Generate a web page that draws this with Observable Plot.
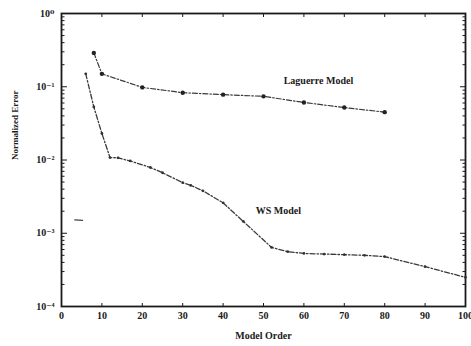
<!DOCTYPE html>
<html>
<head>
<meta charset="utf-8">
<script src="https://cdn.jsdelivr.net/npm/d3@7"></script>
<script src="https://cdn.jsdelivr.net/npm/@observablehq/plot@0.6"></script>
<style>
  html, body { margin: 0; padding: 0; background: #fff; }
</style>
</head>
<body>
<div id="chart"></div>
<script>
const xTicks = [0, 10, 20, 30, 40, 50, 60, 70, 80, 90, 100];
const yMajor = [1e-4, 1e-3, 1e-2, 1e-1, 1];
const yMinor = [-4, -3, -2, -1].flatMap(k => [2, 3, 4, 5, 6, 7, 8, 9].map(m => m * Math.pow(10, k)));

const laguerreOrder = [8, 10, 20, 30, 40, 50, 60, 70, 80];
const laguerreError = [0.29, 0.15, 0.098, 0.083, 0.078, 0.074, 0.061, 0.052, 0.045];

const wsOrder = [6, 8, 10, 12, 14, 17, 22, 25, 30, 32, 35, 40, 45, 52, 56, 60, 65, 70, 75, 80, 90, 100];
const wsError = [0.15, 0.053, 0.023, 0.0108, 0.0107, 0.0097, 0.0079, 0.0067, 0.0049, 0.0045, 0.0038, 0.0026, 0.00145, 0.00064, 0.00056, 0.00053, 0.00052, 0.00051, 0.0005, 0.00048, 0.00035, 0.00025];

const strayOrder = [3.3, 5.2];
const strayError = [0.00152, 0.00150];

const labels = [
  {text: "Laguerre Model", x: 63.6, y: 0.122},
  {text: "WS Model", x: 53.7, y: 0.00204}
];

const laguerre = laguerreOrder.map((x, i) => ({x, y: laguerreError[i]}));
const ws = wsOrder.map((x, i) => ({x, y: wsError[i]}));
const stray = strayOrder.map((x, i) => ({x, y: strayError[i]}));

const sup = {"0":"⁰","1":"¹","2":"²","3":"³","4":"⁴","-":"⁻"};
const fmtPow = d => "10" + String(Math.round(Math.log10(d))).split("").map(c => sup[c]).join("");
const none = () => "";

const ink = "#1a1a1a";
const lineInk = "#3a3a3a";
const dash = "5,2,1.5,2";

const chart = Plot.plot({
  width: 471,
  height: 346,
  marginLeft: 61,
  marginRight: 6,
  marginTop: 13,
  marginBottom: 40,
  style: {fontFamily: "'Liberation Serif', 'DejaVu Serif', serif", fontSize: "10px", fontWeight: "bold", background: "#fff", color: ink},
  x: {domain: [0, 100]},
  y: {type: "log", domain: [1e-4, 1]},
  marks: [
    Plot.axisX({ticks: xTicks, tickSize: 0, tickPadding: 5, tickFormat: d => String(d), label: null}),
    Plot.axisX({ticks: xTicks.slice(1, -1), tickSize: -3, tickFormat: none, label: null, stroke: ink}),
    Plot.axisX({anchor: "top", ticks: xTicks.slice(1, -1), tickSize: -3, tickFormat: none, label: null, stroke: ink}),
    Plot.axisY({ticks: yMajor, tickSize: 0, tickPadding: 7, tickFormat: fmtPow, label: null}),
    Plot.axisY({ticks: yMajor, tickSize: -6, tickFormat: none, label: null, stroke: ink}),
    Plot.axisY({ticks: yMinor, tickSize: -3.5, tickFormat: none, label: null, stroke: ink}),
    Plot.axisY({anchor: "right", ticks: yMajor, tickSize: -6, tickFormat: none, label: null, stroke: ink}),
    Plot.axisY({anchor: "right", ticks: yMinor, tickSize: -3.5, tickFormat: none, label: null, stroke: ink}),
    Plot.frame({stroke: ink, strokeWidth: 1.8}),
    Plot.line(laguerre, {x: "x", y: "y", stroke: lineInk, strokeWidth: 1.2, strokeDasharray: dash}),
    Plot.dot(laguerre, {x: "x", y: "y", r: 2.2, fill: "#222", stroke: "none"}),
    Plot.line(ws, {x: "x", y: "y", stroke: lineInk, strokeWidth: 1.3, strokeDasharray: dash}),
    Plot.dot(ws, {x: "x", y: "y", r: 1.4, fill: "#333", stroke: "none"}),
    Plot.line(stray, {x: "x", y: "y", stroke: "#444", strokeWidth: 1.3}),
    Plot.text(labels, {x: "x", y: "y", text: "text", fontSize: 10, fontWeight: "bold", fill: ink}),
    Plot.text(["Model Order"], {frameAnchor: "bottom", dy: 32, text: d => d, fontSize: 10, fontWeight: "bold", fill: ink}),
    Plot.text(["Normalized Error"], {frameAnchor: "left", dx: -46, rotate: -90, text: d => d, fontSize: 9, fontWeight: "bold", fill: ink})
  ]
});
document.getElementById("chart").appendChild(chart);
</script>
</body>
</html>
